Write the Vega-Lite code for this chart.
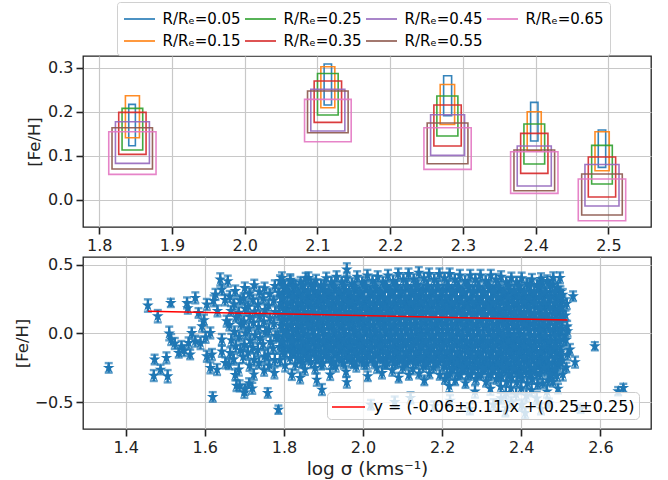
{
"$schema": "https://vega.github.io/schema/vega-lite/v6.json",
"background": "white",
"padding": {"left": 13, "top": 0, "right": 16, "bottom": 4},
"config": {
  "font": "DejaVu Sans",
  "view": {"stroke": "#222222", "strokeWidth": 1.3},
  "axis": {"grid": true, "gridColor": "#c8c8c8", "gridWidth": 1.2, "domain": false, "ticks": true, "tickColor": "#222222", "tickSize": 7, "tickWidth": 1.6, "labelFontSize": 16, "labelColor": "#222222", "labelPadding": 3, "titleFontSize": 16.5, "titleFontWeight": "normal", "titleColor": "#222222"},
  "concat": {"spacing": 2}
},
"datasets": {
"rects": [
{"r":"R/Rₑ=0.05","x1":1.8406,"x2":1.8497,"y1":0.1227,"y2":0.2166},
{"r":"R/Rₑ=0.15","x1":1.8360,"x2":1.8553,"y1":0.1409,"y2":0.2364},
{"r":"R/Rₑ=0.25","x1":1.8314,"x2":1.8598,"y1":0.1130,"y2":0.2075},
{"r":"R/Rₑ=0.35","x1":1.8268,"x2":1.8644,"y1":0.1030,"y2":0.1984},
{"r":"R/Rₑ=0.45","x1":1.8223,"x2":1.8690,"y1":0.0825,"y2":0.1773},
{"r":"R/Rₑ=0.55","x1":1.8176,"x2":1.8732,"y1":0.0698,"y2":0.1636},
{"r":"R/Rₑ=0.65","x1":1.8131,"x2":1.8781,"y1":0.0575,"y2":0.1545},
{"r":"R/Rₑ=0.05","x1":2.1092,"x2":2.1194,"y1":0.2152,"y2":0.3084},
{"r":"R/Rₑ=0.15","x1":2.1047,"x2":2.1239,"y1":0.2091,"y2":0.3023},
{"r":"R/Rₑ=0.25","x1":2.1001,"x2":2.1285,"y1":0.1925,"y2":0.2870},
{"r":"R/Rₑ=0.35","x1":2.0955,"x2":2.1332,"y1":0.1757,"y2":0.2698},
{"r":"R/Rₑ=0.45","x1":2.0909,"x2":2.1377,"y1":0.1561,"y2":0.2507},
{"r":"R/Rₑ=0.55","x1":2.0864,"x2":2.1422,"y1":0.1523,"y2":0.2470},
{"r":"R/Rₑ=0.65","x1":2.0823,"x2":2.1464,"y1":0.1318,"y2":0.2280},
{"r":"R/Rₑ=0.05","x1":2.2735,"x2":2.2845,"y1":0.1909,"y2":0.2818},
{"r":"R/Rₑ=0.15","x1":2.2688,"x2":2.2886,"y1":0.1711,"y2":0.2620},
{"r":"R/Rₑ=0.25","x1":2.2642,"x2":2.2931,"y1":0.1448,"y2":0.2357},
{"r":"R/Rₑ=0.35","x1":2.2601,"x2":2.2977,"y1":0.1220,"y2":0.2152},
{"r":"R/Rₑ=0.45","x1":2.2556,"x2":2.3023,"y1":0.1007,"y2":0.1932},
{"r":"R/Rₑ=0.55","x1":2.2509,"x2":2.3069,"y1":0.0818,"y2":0.1743},
{"r":"R/Rₑ=0.65","x1":2.2464,"x2":2.3114,"y1":0.0689,"y2":0.1636},
{"r":"R/Rₑ=0.05","x1":2.3931,"x2":2.4032,"y1":0.1334,"y2":0.2211},
{"r":"R/Rₑ=0.15","x1":2.3884,"x2":2.4077,"y1":0.1114,"y2":0.2000},
{"r":"R/Rₑ=0.25","x1":2.3839,"x2":2.4124,"y1":0.0811,"y2":0.1720},
{"r":"R/Rₑ=0.35","x1":2.3794,"x2":2.4169,"y1":0.0598,"y2":0.1507},
{"r":"R/Rₑ=0.45","x1":2.3747,"x2":2.4215,"y1":0.0311,"y2":0.1220},
{"r":"R/Rₑ=0.55","x1":2.3702,"x2":2.4261,"y1":0.0205,"y2":0.1130},
{"r":"R/Rₑ=0.65","x1":2.3656,"x2":2.4307,"y1":0.0143,"y2":0.1091},
{"r":"R/Rₑ=0.05","x1":2.4861,"x2":2.4963,"y1":0.0734,"y2":0.1584},
{"r":"R/Rₑ=0.15","x1":2.4816,"x2":2.5012,"y1":0.0659,"y2":0.1545},
{"r":"R/Rₑ=0.25","x1":2.4770,"x2":2.5054,"y1":0.0357,"y2":0.1234},
{"r":"R/Rₑ=0.35","x1":2.4724,"x2":2.5100,"y1":0.0061,"y2":0.0970},
{"r":"R/Rₑ=0.45","x1":2.4678,"x2":2.5146,"y1":-0.0143,"y2":0.0802},
{"r":"R/Rₑ=0.55","x1":2.4633,"x2":2.5191,"y1":-0.0348,"y2":0.0584},
{"r":"R/Rₑ=0.65","x1":2.4586,"x2":2.5238,"y1":-0.0477,"y2":0.0470}
],
"fit": [
{"x":1.456,"y":0.163,"lab":"y = (-0.06±0.11)x +(0.25±0.25)"},
{"x":2.517,"y":0.099,"lab":"y = (-0.06±0.11)x +(0.25±0.25)"}
],
"pts": [
{"x":1.357,"y":-0.251,"e":0.035},{"x":1.456,"y":0.204,"e":0.045},{"x":1.481,"y":0.126,"e":0.045},{"x":1.514,"y":0.223,"e":0.03},{"x":1.51,"y":0.0,"e":0.05},{"x":1.515,"y":-0.044,"e":0.04},{"x":1.524,"y":-0.073,"e":0.04},{"x":1.534,"y":-0.141,"e":0.035},{"x":1.473,"y":-0.19,"e":0.035},{"x":1.471,"y":-0.307,"e":0.04},{"x":1.488,"y":-0.263,"e":0.035},{"x":1.503,"y":-0.178,"e":0.04},{"x":1.506,"y":-0.312,"e":0.045},{"x":1.555,"y":0.223,"e":0.04},{"x":1.557,"y":0.185,"e":0.04},{"x":1.576,"y":0.26,"e":0.04},{"x":1.584,"y":0.15,"e":0.035},{"x":1.605,"y":0.212,"e":0.04},{"x":1.567,"y":0.004,"e":0.04},{"x":1.559,"y":-0.069,"e":0.04},{"x":1.563,"y":-0.153,"e":0.035},{"x":1.576,"y":-0.056,"e":0.04},{"x":1.593,"y":0.053,"e":0.04},{"x":1.589,"y":-0.069,"e":0.045},{"x":1.605,"y":-0.166,"e":0.04},{"x":1.614,"y":-0.251,"e":0.04},{"x":1.631,"y":-0.263,"e":0.04},{"x":1.62,"y":-0.463,"e":0.035},{"x":1.639,"y":0.394,"e":0.045},{"x":1.658,"y":0.382,"e":0.04},{"x":1.627,"y":0.285,"e":0.04},{"x":1.643,"y":0.321,"e":0.04},{"x":1.614,"y":0.004,"e":0.04},{"x":1.618,"y":-0.153,"e":0.04},{"x":1.643,"y":-0.044,"e":0.04},{"x":1.652,"y":-0.215,"e":0.04},{"x":1.643,"y":-0.13,"e":0.04},{"x":1.548,"y":-0.125,"e":0.04},{"x":1.541,"y":-0.095,"e":0.04},{"x":1.598,"y":0.098,"e":0.04},{"x":1.622,"y":0.238,"e":0.04},{"x":1.651,"y":0.245,"e":0.04},{"x":1.602,"y":-0.028,"e":0.04},{"x":1.632,"y":0.165,"e":0.04},{"x":1.655,"y":0.09,"e":0.04},
{"x":1.786,"y":-0.556,"e":0.03},{"x":1.759,"y":-0.434,"e":0.035},{"x":1.896,"y":-0.409,"e":0.04},{"x":1.883,"y":-0.336,"e":0.045},{"x":1.841,"y":-0.324,"e":0.04},{"x":1.82,"y":-0.299,"e":0.04},{"x":1.917,"y":-0.299,"e":0.04},{"x":1.959,"y":-0.355,"e":0.04},{"x":1.795,"y":0.406,"e":0.04},{"x":1.816,"y":0.382,"e":0.04},{"x":1.862,"y":0.406,"e":0.04},{"x":1.959,"y":0.467,"e":0.045},{"x":2.531,"y":0.272,"e":0.035},{"x":2.498,"y":0.406,"e":0.04},{"x":2.481,"y":0.406,"e":0.04},{"x":2.45,"y":0.399,"e":0.04},{"x":2.586,"y":-0.093,"e":0.03},{"x":2.658,"y":-0.397,"e":0.03},{"x":2.645,"y":-0.421,"e":0.03},{"x":2.536,"y":-0.209,"e":0.04},{"x":2.523,"y":-0.117,"e":0.04},{"x":2.517,"y":0.017,"e":0.04},{"x":2.504,"y":0.236,"e":0.04},{"x":1.7,"y":-0.43,"e":0.04},{"x":1.72,"y":-0.4,"e":0.04},{"x":1.68,"y":-0.38,"e":0.04},
{"x":2.02,"y":-0.52,"e":0.035},{"x":2.08,"y":-0.5,"e":0.04},{"x":2.18,"y":-0.53,"e":0.035},{"x":2.27,"y":-0.55,"e":0.04},{"x":2.33,"y":-0.52,"e":0.04},{"x":2.36,"y":-0.57,"e":0.035},{"x":2.41,"y":-0.58,"e":0.04},{"x":2.45,"y":-0.55,"e":0.04},{"x":2.47,"y":-0.51,"e":0.035},{"x":2.55,"y":-0.55,"e":0.03},{"x":2.12,"y":-0.47,"e":0.04},{"x":2.22,"y":-0.49,"e":0.04},
{"x":1.663,"y":0.27,"e":0.04},{"x":1.666,"y":0.165,"e":0.035},{"x":1.662,"y":0.062,"e":0.04},{"x":1.667,"y":-0.048,"e":0.045},{"x":1.664,"y":-0.142,"e":0.04},{"x":1.661,"y":-0.225,"e":0.035},
{"x":1.677,"y":0.31,"e":0.04},{"x":1.674,"y":0.214,"e":0.04},{"x":1.679,"y":0.118,"e":0.035},{"x":1.675,"y":0.012,"e":0.04},{"x":1.678,"y":-0.093,"e":0.045},{"x":1.673,"y":-0.188,"e":0.04},{"x":1.677,"y":-0.302,"e":0.04},
{"x":1.689,"y":0.243,"e":0.035},{"x":1.686,"y":0.152,"e":0.04},{"x":1.691,"y":0.068,"e":0.04},{"x":1.687,"y":-0.023,"e":0.035},{"x":1.69,"y":-0.121,"e":0.04},{"x":1.686,"y":-0.262,"e":0.045},{"x":1.688,"y":-0.382,"e":0.04},
{"x":1.701,"y":0.332,"e":0.04},{"x":1.698,"y":0.258,"e":0.035},{"x":1.702,"y":0.181,"e":0.04},{"x":1.699,"y":0.088,"e":0.04},{"x":1.703,"y":0.003,"e":0.035},{"x":1.7,"y":-0.082,"e":0.04},{"x":1.697,"y":-0.171,"e":0.045},{"x":1.702,"y":-0.408,"e":0.04},
{"x":1.713,"y":0.292,"e":0.04},{"x":1.71,"y":0.198,"e":0.04},{"x":1.714,"y":0.121,"e":0.035},{"x":1.711,"y":0.037,"e":0.04},{"x":1.715,"y":-0.052,"e":0.04},{"x":1.709,"y":-0.138,"e":0.045},{"x":1.713,"y":-0.232,"e":0.04},{"x":1.712,"y":-0.362,"e":0.035},
{"x":1.725,"y":0.352,"e":0.04},{"x":1.722,"y":0.248,"e":0.035},{"x":1.726,"y":0.162,"e":0.04},{"x":1.723,"y":0.078,"e":0.04},{"x":1.727,"y":-0.012,"e":0.035},{"x":1.721,"y":-0.103,"e":0.04},{"x":1.725,"y":-0.191,"e":0.045},{"x":1.724,"y":-0.298,"e":0.04},
{"x":1.738,"y":0.302,"e":0.04},{"x":1.735,"y":0.212,"e":0.04},{"x":1.739,"y":0.128,"e":0.035},{"x":1.736,"y":0.048,"e":0.04},{"x":1.74,"y":-0.032,"e":0.04},{"x":1.734,"y":-0.118,"e":0.045},{"x":1.737,"y":-0.213,"e":0.04},
{"x":1.751,"y":0.331,"e":0.04},{"x":1.748,"y":0.258,"e":0.035},{"x":1.752,"y":0.172,"e":0.04},{"x":1.749,"y":0.088,"e":0.04},{"x":1.753,"y":0.012,"e":0.035},{"x":1.747,"y":-0.078,"e":0.04},{"x":1.751,"y":-0.168,"e":0.045},{"x":1.75,"y":-0.268,"e":0.04},
{"x":1.764,"y":0.288,"e":0.04},{"x":1.761,"y":0.203,"e":0.04},{"x":1.765,"y":0.112,"e":0.035},{"x":1.762,"y":0.028,"e":0.04},{"x":1.766,"y":-0.061,"e":0.04},{"x":1.76,"y":-0.152,"e":0.045},{"x":1.763,"y":-0.232,"e":0.04},
{"x":1.777,"y":0.348,"e":0.04},{"x":1.774,"y":0.241,"e":0.035},{"x":1.778,"y":0.158,"e":0.04},{"x":1.775,"y":0.072,"e":0.04},{"x":1.779,"y":-0.018,"e":0.035},{"x":1.773,"y":-0.108,"e":0.04},{"x":1.777,"y":-0.192,"e":0.045},{"x":1.776,"y":-0.288,"e":0.04},
{"x":1.79,"y":0.384,"e":0.04},{"x":1.787,"y":0.297,"e":0.035},{"x":1.791,"y":0.222,"e":0.04},{"x":1.788,"y":0.143,"e":0.045},{"x":1.792,"y":0.058,"e":0.04},{"x":1.786,"y":-0.023,"e":0.035},{"x":1.789,"y":-0.097,"e":0.04},{"x":1.79,"y":-0.193,"e":0.045},
{"x":1.803,"y":0.344,"e":0.04},{"x":1.8,"y":0.262,"e":0.035},{"x":1.804,"y":0.178,"e":0.04},{"x":1.801,"y":0.103,"e":0.045},{"x":1.805,"y":0.018,"e":0.04},{"x":1.799,"y":-0.062,"e":0.035},{"x":1.802,"y":-0.138,"e":0.04},{"x":1.803,"y":-0.232,"e":0.045},
{"x":1.816,"y":0.392,"e":0.04},{"x":1.813,"y":0.298,"e":0.035},{"x":1.817,"y":0.224,"e":0.04},{"x":1.814,"y":0.138,"e":0.045},{"x":1.818,"y":0.062,"e":0.04},{"x":1.812,"y":-0.018,"e":0.035},{"x":1.815,"y":-0.103,"e":0.04},{"x":1.816,"y":-0.178,"e":0.045},
{"x":1.829,"y":0.352,"e":0.04},{"x":1.826,"y":0.268,"e":0.035},{"x":1.83,"y":0.192,"e":0.04},{"x":1.827,"y":0.108,"e":0.045},{"x":1.831,"y":0.033,"e":0.04},{"x":1.825,"y":-0.052,"e":0.035},{"x":1.828,"y":-0.128,"e":0.04},{"x":1.829,"y":-0.223,"e":0.045},
{"x":1.842,"y":0.372,"e":0.04},{"x":1.839,"y":0.288,"e":0.035},{"x":1.843,"y":0.212,"e":0.04},{"x":1.84,"y":0.128,"e":0.045},{"x":1.844,"y":0.052,"e":0.04},{"x":1.838,"y":-0.028,"e":0.035},{"x":1.841,"y":-0.112,"e":0.04},{"x":1.842,"y":-0.198,"e":0.045},
{"x":1.855,"y":0.402,"e":0.04},{"x":1.852,"y":0.318,"e":0.035},{"x":1.856,"y":0.242,"e":0.04},{"x":1.853,"y":0.158,"e":0.045},{"x":1.857,"y":0.082,"e":0.04},{"x":1.851,"y":0.002,"e":0.035},{"x":1.854,"y":-0.082,"e":0.04},{"x":1.855,"y":-0.158,"e":0.045},{"x":1.853,"y":-0.262,"e":0.04},
{"x":1.868,"y":0.362,"e":0.04},{"x":1.865,"y":0.278,"e":0.035},{"x":1.869,"y":0.202,"e":0.04},{"x":1.866,"y":0.118,"e":0.045},{"x":1.87,"y":0.042,"e":0.04},{"x":1.864,"y":-0.038,"e":0.035},{"x":1.867,"y":-0.122,"e":0.04},{"x":1.868,"y":-0.208,"e":0.045},
{"x":1.881,"y":0.388,"e":0.04},{"x":1.878,"y":0.312,"e":0.035},{"x":1.882,"y":0.228,"e":0.04},{"x":1.879,"y":0.152,"e":0.045},{"x":1.883,"y":0.068,"e":0.04},{"x":1.877,"y":-0.012,"e":0.035},{"x":1.88,"y":-0.088,"e":0.04},{"x":1.881,"y":-0.172,"e":0.045},{"x":1.879,"y":-0.252,"e":0.04},
{"x":1.894,"y":0.352,"e":0.04},{"x":1.891,"y":0.268,"e":0.035},{"x":1.895,"y":0.192,"e":0.04},{"x":1.892,"y":0.108,"e":0.045},{"x":1.896,"y":0.032,"e":0.04},{"x":1.89,"y":-0.048,"e":0.035},{"x":1.893,"y":-0.132,"e":0.04},{"x":1.894,"y":-0.218,"e":0.045},
{"x":1.907,"y":0.404,"e":0.04},{"x":1.904,"y":0.318,"e":0.035},{"x":1.908,"y":0.242,"e":0.04},{"x":1.905,"y":0.158,"e":0.045},{"x":1.909,"y":0.082,"e":0.04},{"x":1.903,"y":-0.003,"e":0.035},{"x":1.906,"y":-0.077,"e":0.04},{"x":1.907,"y":-0.163,"e":0.045},
{"x":1.92,"y":0.374,"e":0.04},{"x":1.917,"y":0.288,"e":0.035},{"x":1.921,"y":0.212,"e":0.04},{"x":1.918,"y":0.128,"e":0.045},{"x":1.922,"y":0.052,"e":0.04},{"x":1.916,"y":-0.033,"e":0.035},{"x":1.919,"y":-0.107,"e":0.04},{"x":1.92,"y":-0.213,"e":0.045},
{"x":1.933,"y":0.414,"e":0.04},{"x":1.93,"y":0.328,"e":0.035},{"x":1.934,"y":0.252,"e":0.04},{"x":1.931,"y":0.168,"e":0.045},{"x":1.935,"y":0.092,"e":0.04},{"x":1.929,"y":0.007,"e":0.035},{"x":1.932,"y":-0.067,"e":0.04},{"x":1.933,"y":-0.153,"e":0.045},{"x":1.931,"y":-0.238,"e":0.04},
{"x":1.946,"y":0.374,"e":0.04},{"x":1.943,"y":0.288,"e":0.035},{"x":1.947,"y":0.212,"e":0.04},{"x":1.944,"y":0.128,"e":0.045},{"x":1.948,"y":0.052,"e":0.04},{"x":1.942,"y":-0.033,"e":0.035},{"x":1.945,"y":-0.107,"e":0.04},{"x":1.946,"y":-0.193,"e":0.045},
{"x":1.959,"y":0.404,"e":0.04},{"x":1.956,"y":0.318,"e":0.035},{"x":1.96,"y":0.242,"e":0.04},{"x":1.957,"y":0.158,"e":0.045},{"x":1.961,"y":0.082,"e":0.04},{"x":1.955,"y":-0.003,"e":0.035},{"x":1.958,"y":-0.077,"e":0.04},{"x":1.959,"y":-0.173,"e":0.045},{"x":1.957,"y":-0.278,"e":0.04},
{"x":1.972,"y":0.364,"e":0.04},{"x":1.969,"y":0.278,"e":0.035},{"x":1.973,"y":0.202,"e":0.04},{"x":1.97,"y":0.118,"e":0.045},{"x":1.974,"y":0.042,"e":0.04},{"x":1.968,"y":-0.043,"e":0.035},{"x":1.971,"y":-0.117,"e":0.04},{"x":1.972,"y":-0.203,"e":0.045},
{"x":1.985,"y":0.414,"e":0.04},{"x":1.982,"y":0.328,"e":0.035},{"x":1.986,"y":0.252,"e":0.04},{"x":1.983,"y":0.168,"e":0.045},{"x":1.987,"y":0.092,"e":0.04},{"x":1.981,"y":0.007,"e":0.035},{"x":1.984,"y":-0.067,"e":0.04},{"x":1.985,"y":-0.153,"e":0.045},{"x":1.983,"y":-0.238,"e":0.04},
{"x":1.998,"y":0.374,"e":0.04},{"x":1.995,"y":0.288,"e":0.035},{"x":1.999,"y":0.212,"e":0.04},{"x":1.996,"y":0.128,"e":0.045},{"x":2.0,"y":0.052,"e":0.04},{"x":1.994,"y":-0.033,"e":0.035},{"x":1.997,"y":-0.107,"e":0.04},{"x":1.998,"y":-0.193,"e":0.045},
{"x":2.011,"y":0.424,"e":0.04},{"x":2.008,"y":0.338,"e":0.035},{"x":2.012,"y":0.262,"e":0.04},{"x":2.009,"y":0.178,"e":0.045},{"x":2.013,"y":0.102,"e":0.04},{"x":2.007,"y":0.017,"e":0.035},{"x":2.01,"y":-0.057,"e":0.04},{"x":2.011,"y":-0.143,"e":0.045},{"x":2.009,"y":-0.218,"e":0.04},{"x":2.012,"y":-0.312,"e":0.035},
{"x":2.024,"y":0.384,"e":0.04},{"x":2.021,"y":0.298,"e":0.035},{"x":2.025,"y":0.222,"e":0.04},{"x":2.022,"y":0.138,"e":0.045},{"x":2.026,"y":0.062,"e":0.04},{"x":2.02,"y":-0.023,"e":0.035},{"x":2.023,"y":-0.097,"e":0.04},{"x":2.024,"y":-0.183,"e":0.045},
{"x":2.037,"y":0.414,"e":0.04},{"x":2.034,"y":0.328,"e":0.035},{"x":2.038,"y":0.252,"e":0.04},{"x":2.035,"y":0.168,"e":0.045},{"x":2.039,"y":0.092,"e":0.04},{"x":2.033,"y":0.007,"e":0.035},{"x":2.036,"y":-0.067,"e":0.04},{"x":2.037,"y":-0.153,"e":0.045},{"x":2.035,"y":-0.248,"e":0.04},
{"x":2.05,"y":0.374,"e":0.04},{"x":2.047,"y":0.288,"e":0.035},{"x":2.051,"y":0.212,"e":0.04},{"x":2.048,"y":0.128,"e":0.045},{"x":2.052,"y":0.052,"e":0.04},{"x":2.046,"y":-0.033,"e":0.035},{"x":2.049,"y":-0.107,"e":0.04},{"x":2.05,"y":-0.193,"e":0.045},{"x":2.048,"y":-0.288,"e":0.04},
{"x":2.063,"y":0.424,"e":0.04},{"x":2.06,"y":0.338,"e":0.035},{"x":2.064,"y":0.262,"e":0.04},{"x":2.061,"y":0.178,"e":0.045},{"x":2.065,"y":0.102,"e":0.04},{"x":2.059,"y":0.017,"e":0.035},{"x":2.062,"y":-0.057,"e":0.04},{"x":2.063,"y":-0.143,"e":0.045},{"x":2.061,"y":-0.218,"e":0.04},
{"x":2.076,"y":0.384,"e":0.04},{"x":2.073,"y":0.298,"e":0.035},{"x":2.077,"y":0.222,"e":0.04},{"x":2.074,"y":0.138,"e":0.045},{"x":2.078,"y":0.062,"e":0.04},{"x":2.072,"y":-0.023,"e":0.035},{"x":2.075,"y":-0.097,"e":0.04},{"x":2.076,"y":-0.183,"e":0.045},{"x":2.074,"y":-0.268,"e":0.04},
{"x":2.089,"y":0.434,"e":0.04},{"x":2.086,"y":0.348,"e":0.035},{"x":2.09,"y":0.272,"e":0.04},{"x":2.087,"y":0.188,"e":0.045},{"x":2.091,"y":0.112,"e":0.04},{"x":2.085,"y":0.027,"e":0.035},{"x":2.088,"y":-0.047,"e":0.04},{"x":2.089,"y":-0.133,"e":0.045},{"x":2.087,"y":-0.208,"e":0.04},{"x":2.09,"y":-0.322,"e":0.035},
{"x":2.102,"y":0.394,"e":0.04},{"x":2.099,"y":0.308,"e":0.035},{"x":2.103,"y":0.232,"e":0.04},{"x":2.1,"y":0.148,"e":0.045},{"x":2.104,"y":0.072,"e":0.04},{"x":2.098,"y":-0.013,"e":0.035},{"x":2.101,"y":-0.087,"e":0.04},{"x":2.102,"y":-0.173,"e":0.045},{"x":2.1,"y":-0.248,"e":0.04},
{"x":2.115,"y":0.434,"e":0.04},{"x":2.112,"y":0.348,"e":0.035},{"x":2.116,"y":0.272,"e":0.04},{"x":2.113,"y":0.188,"e":0.045},{"x":2.117,"y":0.112,"e":0.04},{"x":2.111,"y":0.027,"e":0.035},{"x":2.114,"y":-0.047,"e":0.04},{"x":2.115,"y":-0.133,"e":0.045},{"x":2.113,"y":-0.208,"e":0.04},{"x":2.116,"y":-0.302,"e":0.035},
{"x":2.128,"y":0.394,"e":0.04},{"x":2.125,"y":0.308,"e":0.035},{"x":2.129,"y":0.232,"e":0.04},{"x":2.126,"y":0.148,"e":0.045},{"x":2.13,"y":0.072,"e":0.04},{"x":2.124,"y":-0.013,"e":0.035},{"x":2.127,"y":-0.087,"e":0.04},{"x":2.128,"y":-0.173,"e":0.045},{"x":2.126,"y":-0.258,"e":0.04},
{"x":2.141,"y":0.444,"e":0.04},{"x":2.138,"y":0.358,"e":0.035},{"x":2.142,"y":0.282,"e":0.04},{"x":2.139,"y":0.198,"e":0.045},{"x":2.143,"y":0.122,"e":0.04},{"x":2.137,"y":0.037,"e":0.035},{"x":2.14,"y":-0.037,"e":0.04},{"x":2.141,"y":-0.123,"e":0.045},{"x":2.139,"y":-0.198,"e":0.04},{"x":2.142,"y":-0.292,"e":0.035},
{"x":2.154,"y":0.404,"e":0.04},{"x":2.151,"y":0.318,"e":0.035},{"x":2.155,"y":0.242,"e":0.04},{"x":2.152,"y":0.158,"e":0.045},{"x":2.156,"y":0.082,"e":0.04},{"x":2.15,"y":-0.003,"e":0.035},{"x":2.153,"y":-0.077,"e":0.04},{"x":2.154,"y":-0.163,"e":0.045},{"x":2.152,"y":-0.238,"e":0.04},{"x":2.155,"y":-0.342,"e":0.035},
{"x":2.167,"y":0.434,"e":0.04},{"x":2.164,"y":0.348,"e":0.035},{"x":2.168,"y":0.272,"e":0.04},{"x":2.165,"y":0.188,"e":0.045},{"x":2.169,"y":0.112,"e":0.04},{"x":2.163,"y":0.027,"e":0.035},{"x":2.166,"y":-0.047,"e":0.04},{"x":2.167,"y":-0.133,"e":0.045},{"x":2.165,"y":-0.208,"e":0.04},{"x":2.168,"y":-0.292,"e":0.035},
{"x":2.18,"y":0.394,"e":0.04},{"x":2.177,"y":0.308,"e":0.035},{"x":2.181,"y":0.232,"e":0.04},{"x":2.178,"y":0.148,"e":0.045},{"x":2.182,"y":0.072,"e":0.04},{"x":2.176,"y":-0.013,"e":0.035},{"x":2.179,"y":-0.087,"e":0.04},{"x":2.18,"y":-0.173,"e":0.045},{"x":2.178,"y":-0.248,"e":0.04},
{"x":2.193,"y":0.434,"e":0.04},{"x":2.19,"y":0.348,"e":0.035},{"x":2.194,"y":0.272,"e":0.04},{"x":2.191,"y":0.188,"e":0.045},{"x":2.195,"y":0.112,"e":0.04},{"x":2.189,"y":0.027,"e":0.035},{"x":2.192,"y":-0.047,"e":0.04},{"x":2.193,"y":-0.133,"e":0.045},{"x":2.191,"y":-0.208,"e":0.04},{"x":2.194,"y":-0.302,"e":0.035},
{"x":2.206,"y":0.404,"e":0.04},{"x":2.203,"y":0.318,"e":0.035},{"x":2.207,"y":0.242,"e":0.04},{"x":2.204,"y":0.158,"e":0.045},{"x":2.208,"y":0.082,"e":0.04},{"x":2.202,"y":-0.003,"e":0.035},{"x":2.205,"y":-0.077,"e":0.04},{"x":2.206,"y":-0.163,"e":0.045},{"x":2.204,"y":-0.238,"e":0.04},{"x":2.207,"y":-0.332,"e":0.035},
{"x":2.219,"y":0.434,"e":0.04},{"x":2.216,"y":0.348,"e":0.035},{"x":2.22,"y":0.272,"e":0.04},{"x":2.217,"y":0.188,"e":0.045},{"x":2.221,"y":0.112,"e":0.04},{"x":2.215,"y":0.027,"e":0.035},{"x":2.218,"y":-0.047,"e":0.04},{"x":2.219,"y":-0.133,"e":0.045},{"x":2.217,"y":-0.208,"e":0.04},{"x":2.22,"y":-0.292,"e":0.035},{"x":2.218,"y":-0.383,"e":0.045},
{"x":2.232,"y":0.394,"e":0.04},{"x":2.229,"y":0.308,"e":0.035},{"x":2.233,"y":0.232,"e":0.04},{"x":2.23,"y":0.148,"e":0.045},{"x":2.234,"y":0.072,"e":0.04},{"x":2.228,"y":-0.013,"e":0.035},{"x":2.231,"y":-0.087,"e":0.04},{"x":2.232,"y":-0.173,"e":0.045},{"x":2.23,"y":-0.248,"e":0.04},{"x":2.233,"y":-0.342,"e":0.035},
{"x":2.245,"y":0.424,"e":0.04},{"x":2.242,"y":0.338,"e":0.035},{"x":2.246,"y":0.262,"e":0.04},{"x":2.243,"y":0.178,"e":0.045},{"x":2.247,"y":0.102,"e":0.04},{"x":2.241,"y":0.017,"e":0.035},{"x":2.244,"y":-0.057,"e":0.04},{"x":2.245,"y":-0.143,"e":0.045},{"x":2.243,"y":-0.218,"e":0.04},{"x":2.246,"y":-0.302,"e":0.035},
{"x":2.258,"y":0.384,"e":0.04},{"x":2.255,"y":0.298,"e":0.035},{"x":2.259,"y":0.222,"e":0.04},{"x":2.256,"y":0.138,"e":0.045},{"x":2.26,"y":0.062,"e":0.04},{"x":2.254,"y":-0.023,"e":0.035},{"x":2.257,"y":-0.097,"e":0.04},{"x":2.258,"y":-0.183,"e":0.045},{"x":2.256,"y":-0.258,"e":0.04},{"x":2.259,"y":-0.362,"e":0.035},
{"x":2.271,"y":0.424,"e":0.04},{"x":2.268,"y":0.338,"e":0.035},{"x":2.272,"y":0.262,"e":0.04},{"x":2.269,"y":0.178,"e":0.045},{"x":2.273,"y":0.102,"e":0.04},{"x":2.267,"y":0.017,"e":0.035},{"x":2.27,"y":-0.057,"e":0.04},{"x":2.271,"y":-0.143,"e":0.045},{"x":2.269,"y":-0.218,"e":0.04},{"x":2.272,"y":-0.302,"e":0.035},
{"x":2.284,"y":0.394,"e":0.04},{"x":2.281,"y":0.308,"e":0.035},{"x":2.285,"y":0.232,"e":0.04},{"x":2.282,"y":0.148,"e":0.045},{"x":2.286,"y":0.072,"e":0.04},{"x":2.28,"y":-0.013,"e":0.035},{"x":2.283,"y":-0.087,"e":0.04},{"x":2.284,"y":-0.173,"e":0.045},{"x":2.282,"y":-0.248,"e":0.04},{"x":2.285,"y":-0.332,"e":0.035},{"x":2.283,"y":-0.423,"e":0.045},
{"x":2.297,"y":0.424,"e":0.04},{"x":2.294,"y":0.338,"e":0.035},{"x":2.298,"y":0.262,"e":0.04},{"x":2.295,"y":0.178,"e":0.045},{"x":2.299,"y":0.102,"e":0.04},{"x":2.293,"y":0.017,"e":0.035},{"x":2.296,"y":-0.057,"e":0.04},{"x":2.297,"y":-0.143,"e":0.045},{"x":2.295,"y":-0.218,"e":0.04},{"x":2.298,"y":-0.302,"e":0.035},
{"x":2.31,"y":0.384,"e":0.04},{"x":2.307,"y":0.298,"e":0.035},{"x":2.311,"y":0.222,"e":0.04},{"x":2.308,"y":0.138,"e":0.045},{"x":2.312,"y":0.062,"e":0.04},{"x":2.306,"y":-0.023,"e":0.035},{"x":2.309,"y":-0.097,"e":0.04},{"x":2.31,"y":-0.183,"e":0.045},{"x":2.308,"y":-0.258,"e":0.04},{"x":2.311,"y":-0.352,"e":0.035},
{"x":2.323,"y":0.424,"e":0.04},{"x":2.32,"y":0.338,"e":0.035},{"x":2.324,"y":0.262,"e":0.04},{"x":2.321,"y":0.178,"e":0.045},{"x":2.325,"y":0.102,"e":0.04},{"x":2.319,"y":0.017,"e":0.035},{"x":2.322,"y":-0.057,"e":0.04},{"x":2.323,"y":-0.143,"e":0.045},{"x":2.321,"y":-0.218,"e":0.04},{"x":2.324,"y":-0.302,"e":0.035},{"x":2.322,"y":-0.403,"e":0.045},
{"x":2.336,"y":0.394,"e":0.04},{"x":2.333,"y":0.308,"e":0.035},{"x":2.337,"y":0.232,"e":0.04},{"x":2.334,"y":0.148,"e":0.045},{"x":2.338,"y":0.072,"e":0.04},{"x":2.332,"y":-0.013,"e":0.035},{"x":2.335,"y":-0.087,"e":0.04},{"x":2.336,"y":-0.173,"e":0.045},{"x":2.334,"y":-0.248,"e":0.04},{"x":2.337,"y":-0.332,"e":0.035},
{"x":2.349,"y":0.414,"e":0.04},{"x":2.346,"y":0.328,"e":0.035},{"x":2.35,"y":0.252,"e":0.04},{"x":2.347,"y":0.168,"e":0.045},{"x":2.351,"y":0.092,"e":0.04},{"x":2.345,"y":0.007,"e":0.035},{"x":2.348,"y":-0.067,"e":0.04},{"x":2.349,"y":-0.153,"e":0.045},{"x":2.347,"y":-0.228,"e":0.04},{"x":2.35,"y":-0.312,"e":0.035},{"x":2.348,"y":-0.388,"e":0.045},{"x":2.349,"y":-0.472,"e":0.04},
{"x":2.362,"y":0.374,"e":0.04},{"x":2.359,"y":0.288,"e":0.035},{"x":2.363,"y":0.212,"e":0.04},{"x":2.36,"y":0.128,"e":0.045},{"x":2.364,"y":0.052,"e":0.04},{"x":2.358,"y":-0.033,"e":0.035},{"x":2.361,"y":-0.107,"e":0.04},{"x":2.362,"y":-0.193,"e":0.045},{"x":2.36,"y":-0.268,"e":0.04},{"x":2.363,"y":-0.352,"e":0.035},{"x":2.361,"y":-0.433,"e":0.045},
{"x":2.375,"y":0.404,"e":0.04},{"x":2.372,"y":0.318,"e":0.035},{"x":2.376,"y":0.242,"e":0.04},{"x":2.373,"y":0.158,"e":0.045},{"x":2.377,"y":0.082,"e":0.04},{"x":2.371,"y":-0.003,"e":0.035},{"x":2.374,"y":-0.077,"e":0.04},{"x":2.375,"y":-0.163,"e":0.045},{"x":2.373,"y":-0.238,"e":0.04},{"x":2.376,"y":-0.322,"e":0.035},{"x":2.374,"y":-0.398,"e":0.045},{"x":2.375,"y":-0.502,"e":0.04},
{"x":2.388,"y":0.374,"e":0.04},{"x":2.385,"y":0.288,"e":0.035},{"x":2.389,"y":0.212,"e":0.04},{"x":2.386,"y":0.128,"e":0.045},{"x":2.39,"y":0.052,"e":0.04},{"x":2.384,"y":-0.033,"e":0.035},{"x":2.387,"y":-0.107,"e":0.04},{"x":2.388,"y":-0.193,"e":0.045},{"x":2.386,"y":-0.268,"e":0.04},{"x":2.389,"y":-0.352,"e":0.035},{"x":2.387,"y":-0.443,"e":0.045},
{"x":2.401,"y":0.404,"e":0.04},{"x":2.398,"y":0.318,"e":0.035},{"x":2.402,"y":0.242,"e":0.04},{"x":2.399,"y":0.158,"e":0.045},{"x":2.403,"y":0.082,"e":0.04},{"x":2.397,"y":-0.003,"e":0.035},{"x":2.4,"y":-0.077,"e":0.04},{"x":2.401,"y":-0.163,"e":0.045},{"x":2.399,"y":-0.238,"e":0.04},{"x":2.402,"y":-0.322,"e":0.035},{"x":2.4,"y":-0.398,"e":0.045},{"x":2.401,"y":-0.522,"e":0.04},
{"x":2.414,"y":0.364,"e":0.04},{"x":2.411,"y":0.278,"e":0.035},{"x":2.415,"y":0.202,"e":0.04},{"x":2.412,"y":0.118,"e":0.045},{"x":2.416,"y":0.042,"e":0.04},{"x":2.41,"y":-0.043,"e":0.035},{"x":2.413,"y":-0.117,"e":0.04},{"x":2.414,"y":-0.203,"e":0.045},{"x":2.412,"y":-0.278,"e":0.04},{"x":2.415,"y":-0.362,"e":0.035},{"x":2.413,"y":-0.453,"e":0.045},
{"x":2.427,"y":0.394,"e":0.04},{"x":2.424,"y":0.308,"e":0.035},{"x":2.428,"y":0.232,"e":0.04},{"x":2.425,"y":0.148,"e":0.045},{"x":2.429,"y":0.072,"e":0.04},{"x":2.423,"y":-0.013,"e":0.035},{"x":2.426,"y":-0.087,"e":0.04},{"x":2.427,"y":-0.173,"e":0.045},{"x":2.425,"y":-0.248,"e":0.04},{"x":2.428,"y":-0.332,"e":0.035},{"x":2.426,"y":-0.413,"e":0.045},
{"x":2.44,"y":0.354,"e":0.04},{"x":2.437,"y":0.268,"e":0.035},{"x":2.441,"y":0.192,"e":0.04},{"x":2.438,"y":0.108,"e":0.045},{"x":2.442,"y":0.032,"e":0.04},{"x":2.436,"y":-0.053,"e":0.035},{"x":2.439,"y":-0.127,"e":0.04},{"x":2.44,"y":-0.213,"e":0.045},{"x":2.438,"y":-0.288,"e":0.04},{"x":2.441,"y":-0.372,"e":0.035},{"x":2.439,"y":-0.473,"e":0.045},
{"x":2.453,"y":0.374,"e":0.04},{"x":2.45,"y":0.288,"e":0.035},{"x":2.454,"y":0.212,"e":0.04},{"x":2.451,"y":0.128,"e":0.045},{"x":2.455,"y":0.052,"e":0.04},{"x":2.449,"y":-0.033,"e":0.035},{"x":2.452,"y":-0.107,"e":0.04},{"x":2.453,"y":-0.193,"e":0.045},{"x":2.451,"y":-0.268,"e":0.04},{"x":2.454,"y":-0.362,"e":0.035},
{"x":2.466,"y":0.384,"e":0.04},{"x":2.463,"y":0.298,"e":0.035},{"x":2.467,"y":0.222,"e":0.04},{"x":2.464,"y":0.138,"e":0.045},{"x":2.468,"y":0.062,"e":0.04},{"x":2.462,"y":-0.023,"e":0.035},{"x":2.465,"y":-0.097,"e":0.04},{"x":2.466,"y":-0.183,"e":0.045},{"x":2.464,"y":-0.258,"e":0.04},{"x":2.467,"y":-0.342,"e":0.035},{"x":2.465,"y":-0.423,"e":0.045},
{"x":2.479,"y":0.354,"e":0.04},{"x":2.476,"y":0.268,"e":0.035},{"x":2.48,"y":0.192,"e":0.04},{"x":2.477,"y":0.108,"e":0.045},{"x":2.481,"y":0.032,"e":0.04},{"x":2.475,"y":-0.053,"e":0.035},{"x":2.478,"y":-0.127,"e":0.04},{"x":2.479,"y":-0.213,"e":0.045},{"x":2.477,"y":-0.288,"e":0.04},{"x":2.48,"y":-0.352,"e":0.035},
{"x":2.492,"y":0.334,"e":0.04},{"x":2.489,"y":0.248,"e":0.035},{"x":2.493,"y":0.172,"e":0.04},{"x":2.49,"y":0.088,"e":0.045},{"x":2.494,"y":0.012,"e":0.04},{"x":2.488,"y":-0.073,"e":0.035},{"x":2.491,"y":-0.147,"e":0.04},{"x":2.492,"y":-0.233,"e":0.045},{"x":2.49,"y":-0.308,"e":0.04},{"x":2.493,"y":-0.402,"e":0.035},
{"x":2.505,"y":0.284,"e":0.04},{"x":2.502,"y":0.198,"e":0.035},{"x":2.506,"y":0.122,"e":0.04},{"x":2.503,"y":0.038,"e":0.045},{"x":2.507,"y":-0.042,"e":0.04},{"x":2.501,"y":-0.123,"e":0.035},{"x":2.504,"y":-0.197,"e":0.04},{"x":2.505,"y":-0.298,"e":0.045},
{"x":2.515,"y":0.218,"e":0.04},{"x":2.512,"y":0.132,"e":0.035},{"x":2.516,"y":0.052,"e":0.04},{"x":2.513,"y":-0.047,"e":0.045},{"x":2.517,"y":-0.152,"e":0.04},{"x":2.514,"y":-0.248,"e":0.035},
{"x":1.797,"y":0.348,"e":0.04},{"x":1.795,"y":0.262,"e":0.04},{"x":1.797,"y":0.187,"e":0.04},{"x":1.795,"y":0.103,"e":0.04},{"x":1.797,"y":0.027,"e":0.04},{"x":1.795,"y":-0.057,"e":0.04},{"x":1.797,"y":-0.132,"e":0.04},
{"x":1.823,"y":0.343,"e":0.04},{"x":1.821,"y":0.267,"e":0.04},{"x":1.823,"y":0.183,"e":0.04},{"x":1.821,"y":0.107,"e":0.04},{"x":1.823,"y":0.022,"e":0.04},{"x":1.821,"y":-0.053,"e":0.04},{"x":1.823,"y":-0.137,"e":0.04},
{"x":1.849,"y":0.349,"e":0.04},{"x":1.847,"y":0.263,"e":0.04},{"x":1.849,"y":0.188,"e":0.04},{"x":1.847,"y":0.102,"e":0.04},{"x":1.849,"y":0.028,"e":0.04},{"x":1.847,"y":-0.058,"e":0.04},{"x":1.849,"y":-0.133,"e":0.04},{"x":1.847,"y":-0.212,"e":0.04},
{"x":1.875,"y":0.344,"e":0.04},{"x":1.873,"y":0.268,"e":0.04},{"x":1.875,"y":0.182,"e":0.04},{"x":1.873,"y":0.108,"e":0.04},{"x":1.875,"y":0.023,"e":0.04},{"x":1.873,"y":-0.052,"e":0.04},{"x":1.875,"y":-0.138,"e":0.04},
{"x":1.901,"y":0.347,"e":0.04},{"x":1.899,"y":0.264,"e":0.04},{"x":1.901,"y":0.186,"e":0.04},{"x":1.899,"y":0.104,"e":0.04},{"x":1.901,"y":0.026,"e":0.04},{"x":1.899,"y":-0.056,"e":0.04},{"x":1.901,"y":-0.134,"e":0.04},{"x":1.899,"y":-0.217,"e":0.04},
{"x":1.927,"y":0.345,"e":0.04},{"x":1.925,"y":0.266,"e":0.04},{"x":1.927,"y":0.184,"e":0.04},{"x":1.925,"y":0.106,"e":0.04},{"x":1.927,"y":0.024,"e":0.04},{"x":1.925,"y":-0.054,"e":0.04},{"x":1.927,"y":-0.136,"e":0.04},{"x":1.925,"y":-0.213,"e":0.04},
{"x":1.953,"y":0.348,"e":0.04},{"x":1.951,"y":0.262,"e":0.04},{"x":1.953,"y":0.187,"e":0.04},{"x":1.951,"y":0.103,"e":0.04},{"x":1.953,"y":0.027,"e":0.04},{"x":1.951,"y":-0.057,"e":0.04},{"x":1.953,"y":-0.132,"e":0.04},{"x":1.951,"y":-0.216,"e":0.04},
{"x":1.979,"y":0.343,"e":0.04},{"x":1.977,"y":0.267,"e":0.04},{"x":1.979,"y":0.183,"e":0.04},{"x":1.977,"y":0.107,"e":0.04},{"x":1.979,"y":0.022,"e":0.04},{"x":1.977,"y":-0.053,"e":0.04},{"x":1.979,"y":-0.137,"e":0.04},{"x":1.977,"y":-0.212,"e":0.04},
{"x":2.005,"y":0.349,"e":0.04},{"x":2.003,"y":0.263,"e":0.04},{"x":2.005,"y":0.188,"e":0.04},{"x":2.003,"y":0.102,"e":0.04},{"x":2.005,"y":0.028,"e":0.04},{"x":2.003,"y":-0.058,"e":0.04},{"x":2.005,"y":-0.133,"e":0.04},{"x":2.003,"y":-0.218,"e":0.04},
{"x":2.031,"y":0.344,"e":0.04},{"x":2.029,"y":0.268,"e":0.04},{"x":2.031,"y":0.182,"e":0.04},{"x":2.029,"y":0.108,"e":0.04},{"x":2.031,"y":0.023,"e":0.04},{"x":2.029,"y":-0.052,"e":0.04},{"x":2.031,"y":-0.138,"e":0.04},{"x":2.029,"y":-0.214,"e":0.04},
{"x":2.057,"y":0.347,"e":0.04},{"x":2.055,"y":0.264,"e":0.04},{"x":2.057,"y":0.186,"e":0.04},{"x":2.055,"y":0.104,"e":0.04},{"x":2.057,"y":0.026,"e":0.04},{"x":2.055,"y":-0.056,"e":0.04},{"x":2.057,"y":-0.134,"e":0.04},{"x":2.055,"y":-0.217,"e":0.04},
{"x":2.083,"y":0.345,"e":0.04},{"x":2.081,"y":0.266,"e":0.04},{"x":2.083,"y":0.184,"e":0.04},{"x":2.081,"y":0.106,"e":0.04},{"x":2.083,"y":0.024,"e":0.04},{"x":2.081,"y":-0.054,"e":0.04},{"x":2.083,"y":-0.136,"e":0.04},{"x":2.081,"y":-0.213,"e":0.04},
{"x":2.109,"y":0.348,"e":0.04},{"x":2.107,"y":0.262,"e":0.04},{"x":2.109,"y":0.187,"e":0.04},{"x":2.107,"y":0.103,"e":0.04},{"x":2.109,"y":0.027,"e":0.04},{"x":2.107,"y":-0.057,"e":0.04},{"x":2.109,"y":-0.132,"e":0.04},{"x":2.107,"y":-0.216,"e":0.04},
{"x":2.135,"y":0.343,"e":0.04},{"x":2.133,"y":0.267,"e":0.04},{"x":2.135,"y":0.183,"e":0.04},{"x":2.133,"y":0.107,"e":0.04},{"x":2.135,"y":0.022,"e":0.04},{"x":2.133,"y":-0.053,"e":0.04},{"x":2.135,"y":-0.137,"e":0.04},{"x":2.133,"y":-0.212,"e":0.04},
{"x":2.161,"y":0.349,"e":0.04},{"x":2.159,"y":0.263,"e":0.04},{"x":2.161,"y":0.188,"e":0.04},{"x":2.159,"y":0.102,"e":0.04},{"x":2.161,"y":0.028,"e":0.04},{"x":2.159,"y":-0.058,"e":0.04},{"x":2.161,"y":-0.133,"e":0.04},{"x":2.159,"y":-0.218,"e":0.04},
{"x":2.187,"y":0.344,"e":0.04},{"x":2.185,"y":0.268,"e":0.04},{"x":2.187,"y":0.182,"e":0.04},{"x":2.185,"y":0.108,"e":0.04},{"x":2.187,"y":0.023,"e":0.04},{"x":2.185,"y":-0.052,"e":0.04},{"x":2.187,"y":-0.138,"e":0.04},{"x":2.185,"y":-0.214,"e":0.04},
{"x":2.213,"y":0.347,"e":0.04},{"x":2.211,"y":0.264,"e":0.04},{"x":2.213,"y":0.186,"e":0.04},{"x":2.211,"y":0.104,"e":0.04},{"x":2.213,"y":0.026,"e":0.04},{"x":2.211,"y":-0.056,"e":0.04},{"x":2.213,"y":-0.134,"e":0.04},{"x":2.211,"y":-0.217,"e":0.04},{"x":2.213,"y":-0.296,"e":0.04},
{"x":2.239,"y":0.345,"e":0.04},{"x":2.237,"y":0.266,"e":0.04},{"x":2.239,"y":0.184,"e":0.04},{"x":2.237,"y":0.106,"e":0.04},{"x":2.239,"y":0.024,"e":0.04},{"x":2.237,"y":-0.054,"e":0.04},{"x":2.239,"y":-0.136,"e":0.04},{"x":2.237,"y":-0.213,"e":0.04},{"x":2.239,"y":-0.293,"e":0.04},
{"x":2.265,"y":0.348,"e":0.04},{"x":2.263,"y":0.262,"e":0.04},{"x":2.265,"y":0.187,"e":0.04},{"x":2.263,"y":0.103,"e":0.04},{"x":2.265,"y":0.027,"e":0.04},{"x":2.263,"y":-0.057,"e":0.04},{"x":2.265,"y":-0.132,"e":0.04},{"x":2.263,"y":-0.216,"e":0.04},{"x":2.265,"y":-0.297,"e":0.04},
{"x":2.291,"y":0.343,"e":0.04},{"x":2.289,"y":0.267,"e":0.04},{"x":2.291,"y":0.183,"e":0.04},{"x":2.289,"y":0.107,"e":0.04},{"x":2.291,"y":0.022,"e":0.04},{"x":2.289,"y":-0.053,"e":0.04},{"x":2.291,"y":-0.137,"e":0.04},{"x":2.289,"y":-0.212,"e":0.04},{"x":2.291,"y":-0.294,"e":0.04},
{"x":2.317,"y":0.349,"e":0.04},{"x":2.315,"y":0.263,"e":0.04},{"x":2.317,"y":0.188,"e":0.04},{"x":2.315,"y":0.102,"e":0.04},{"x":2.317,"y":0.028,"e":0.04},{"x":2.315,"y":-0.058,"e":0.04},{"x":2.317,"y":-0.133,"e":0.04},{"x":2.315,"y":-0.218,"e":0.04},{"x":2.317,"y":-0.298,"e":0.04},
{"x":2.343,"y":0.344,"e":0.04},{"x":2.341,"y":0.268,"e":0.04},{"x":2.343,"y":0.182,"e":0.04},{"x":2.341,"y":0.108,"e":0.04},{"x":2.343,"y":0.023,"e":0.04},{"x":2.341,"y":-0.052,"e":0.04},{"x":2.343,"y":-0.138,"e":0.04},{"x":2.341,"y":-0.214,"e":0.04},{"x":2.343,"y":-0.295,"e":0.04},
{"x":2.369,"y":0.347,"e":0.04},{"x":2.367,"y":0.264,"e":0.04},{"x":2.369,"y":0.186,"e":0.04},{"x":2.367,"y":0.104,"e":0.04},{"x":2.369,"y":0.026,"e":0.04},{"x":2.367,"y":-0.056,"e":0.04},{"x":2.369,"y":-0.134,"e":0.04},{"x":2.367,"y":-0.217,"e":0.04},{"x":2.369,"y":-0.296,"e":0.04},
{"x":2.395,"y":0.345,"e":0.04},{"x":2.393,"y":0.266,"e":0.04},{"x":2.395,"y":0.184,"e":0.04},{"x":2.393,"y":0.106,"e":0.04},{"x":2.395,"y":0.024,"e":0.04},{"x":2.393,"y":-0.054,"e":0.04},{"x":2.395,"y":-0.136,"e":0.04},{"x":2.393,"y":-0.213,"e":0.04},{"x":2.395,"y":-0.293,"e":0.04},
{"x":2.421,"y":0.348,"e":0.04},{"x":2.419,"y":0.262,"e":0.04},{"x":2.421,"y":0.187,"e":0.04},{"x":2.419,"y":0.103,"e":0.04},{"x":2.421,"y":0.027,"e":0.04},{"x":2.419,"y":-0.057,"e":0.04},{"x":2.421,"y":-0.132,"e":0.04},{"x":2.419,"y":-0.216,"e":0.04},{"x":2.421,"y":-0.297,"e":0.04},
{"x":2.447,"y":0.343,"e":0.04},{"x":2.445,"y":0.267,"e":0.04},{"x":2.447,"y":0.183,"e":0.04},{"x":2.445,"y":0.107,"e":0.04},{"x":2.447,"y":0.022,"e":0.04},{"x":2.445,"y":-0.053,"e":0.04},{"x":2.447,"y":-0.137,"e":0.04},{"x":2.445,"y":-0.212,"e":0.04},{"x":2.447,"y":-0.294,"e":0.04},
{"x":2.473,"y":0.349,"e":0.04},{"x":2.471,"y":0.263,"e":0.04},{"x":2.473,"y":0.188,"e":0.04},{"x":2.471,"y":0.102,"e":0.04},{"x":2.473,"y":0.028,"e":0.04},{"x":2.471,"y":-0.058,"e":0.04},{"x":2.473,"y":-0.133,"e":0.04},{"x":2.471,"y":-0.218,"e":0.04},{"x":2.473,"y":-0.298,"e":0.04},
{"x":2.499,"y":0.304,"e":0.04},{"x":2.497,"y":0.268,"e":0.04},{"x":2.499,"y":0.182,"e":0.04},{"x":2.497,"y":0.108,"e":0.04},{"x":2.499,"y":0.023,"e":0.04},{"x":2.497,"y":-0.052,"e":0.04},{"x":2.499,"y":-0.138,"e":0.04},{"x":2.497,"y":-0.214,"e":0.04},
{"x":1.809,"y":0.306,"e":0.04},{"x":1.809,"y":0.223,"e":0.04},{"x":1.809,"y":0.147,"e":0.04},{"x":1.809,"y":0.063,"e":0.04},{"x":1.809,"y":-0.013,"e":0.04},{"x":1.809,"y":-0.097,"e":0.04},
{"x":1.835,"y":0.302,"e":0.04},{"x":1.835,"y":0.227,"e":0.04},{"x":1.835,"y":0.143,"e":0.04},{"x":1.835,"y":0.067,"e":0.04},{"x":1.835,"y":-0.017,"e":0.04},{"x":1.835,"y":-0.093,"e":0.04},{"x":1.835,"y":-0.177,"e":0.04},
{"x":1.861,"y":0.306,"e":0.04},{"x":1.861,"y":0.223,"e":0.04},{"x":1.861,"y":0.147,"e":0.04},{"x":1.861,"y":0.063,"e":0.04},{"x":1.861,"y":-0.013,"e":0.04},{"x":1.861,"y":-0.097,"e":0.04},{"x":1.861,"y":-0.173,"e":0.04},
{"x":1.887,"y":0.302,"e":0.04},{"x":1.887,"y":0.227,"e":0.04},{"x":1.887,"y":0.143,"e":0.04},{"x":1.887,"y":0.067,"e":0.04},{"x":1.887,"y":-0.017,"e":0.04},{"x":1.887,"y":-0.093,"e":0.04},{"x":1.887,"y":-0.177,"e":0.04},
{"x":1.913,"y":0.306,"e":0.04},{"x":1.913,"y":0.223,"e":0.04},{"x":1.913,"y":0.147,"e":0.04},{"x":1.913,"y":0.063,"e":0.04},{"x":1.913,"y":-0.013,"e":0.04},{"x":1.913,"y":-0.097,"e":0.04},{"x":1.913,"y":-0.173,"e":0.04},
{"x":1.939,"y":0.302,"e":0.04},{"x":1.939,"y":0.227,"e":0.04},{"x":1.939,"y":0.143,"e":0.04},{"x":1.939,"y":0.067,"e":0.04},{"x":1.939,"y":-0.017,"e":0.04},{"x":1.939,"y":-0.093,"e":0.04},{"x":1.939,"y":-0.177,"e":0.04},
{"x":1.965,"y":0.306,"e":0.04},{"x":1.965,"y":0.223,"e":0.04},{"x":1.965,"y":0.147,"e":0.04},{"x":1.965,"y":0.063,"e":0.04},{"x":1.965,"y":-0.013,"e":0.04},{"x":1.965,"y":-0.097,"e":0.04},{"x":1.965,"y":-0.173,"e":0.04},
{"x":1.991,"y":0.302,"e":0.04},{"x":1.991,"y":0.227,"e":0.04},{"x":1.991,"y":0.143,"e":0.04},{"x":1.991,"y":0.067,"e":0.04},{"x":1.991,"y":-0.017,"e":0.04},{"x":1.991,"y":-0.093,"e":0.04},{"x":1.991,"y":-0.177,"e":0.04},
{"x":2.017,"y":0.306,"e":0.04},{"x":2.017,"y":0.223,"e":0.04},{"x":2.017,"y":0.147,"e":0.04},{"x":2.017,"y":0.063,"e":0.04},{"x":2.017,"y":-0.013,"e":0.04},{"x":2.017,"y":-0.097,"e":0.04},{"x":2.017,"y":-0.173,"e":0.04},
{"x":2.043,"y":0.302,"e":0.04},{"x":2.043,"y":0.227,"e":0.04},{"x":2.043,"y":0.143,"e":0.04},{"x":2.043,"y":0.067,"e":0.04},{"x":2.043,"y":-0.017,"e":0.04},{"x":2.043,"y":-0.093,"e":0.04},{"x":2.043,"y":-0.177,"e":0.04},
{"x":2.069,"y":0.306,"e":0.04},{"x":2.069,"y":0.223,"e":0.04},{"x":2.069,"y":0.147,"e":0.04},{"x":2.069,"y":0.063,"e":0.04},{"x":2.069,"y":-0.013,"e":0.04},{"x":2.069,"y":-0.097,"e":0.04},{"x":2.069,"y":-0.173,"e":0.04},
{"x":2.095,"y":0.302,"e":0.04},{"x":2.095,"y":0.227,"e":0.04},{"x":2.095,"y":0.143,"e":0.04},{"x":2.095,"y":0.067,"e":0.04},{"x":2.095,"y":-0.017,"e":0.04},{"x":2.095,"y":-0.093,"e":0.04},{"x":2.095,"y":-0.177,"e":0.04},
{"x":2.121,"y":0.306,"e":0.04},{"x":2.121,"y":0.223,"e":0.04},{"x":2.121,"y":0.147,"e":0.04},{"x":2.121,"y":0.063,"e":0.04},{"x":2.121,"y":-0.013,"e":0.04},{"x":2.121,"y":-0.097,"e":0.04},{"x":2.121,"y":-0.173,"e":0.04},
{"x":2.147,"y":0.302,"e":0.04},{"x":2.147,"y":0.227,"e":0.04},{"x":2.147,"y":0.143,"e":0.04},{"x":2.147,"y":0.067,"e":0.04},{"x":2.147,"y":-0.017,"e":0.04},{"x":2.147,"y":-0.093,"e":0.04},{"x":2.147,"y":-0.177,"e":0.04},
{"x":2.173,"y":0.306,"e":0.04},{"x":2.173,"y":0.223,"e":0.04},{"x":2.173,"y":0.147,"e":0.04},{"x":2.173,"y":0.063,"e":0.04},{"x":2.173,"y":-0.013,"e":0.04},{"x":2.173,"y":-0.097,"e":0.04},{"x":2.173,"y":-0.173,"e":0.04},
{"x":2.199,"y":0.302,"e":0.04},{"x":2.199,"y":0.227,"e":0.04},{"x":2.199,"y":0.143,"e":0.04},{"x":2.199,"y":0.067,"e":0.04},{"x":2.199,"y":-0.017,"e":0.04},{"x":2.199,"y":-0.093,"e":0.04},{"x":2.199,"y":-0.177,"e":0.04},
{"x":2.225,"y":0.306,"e":0.04},{"x":2.225,"y":0.223,"e":0.04},{"x":2.225,"y":0.147,"e":0.04},{"x":2.225,"y":0.063,"e":0.04},{"x":2.225,"y":-0.013,"e":0.04},{"x":2.225,"y":-0.097,"e":0.04},{"x":2.225,"y":-0.173,"e":0.04},{"x":2.225,"y":-0.256,"e":0.04},
{"x":2.251,"y":0.302,"e":0.04},{"x":2.251,"y":0.227,"e":0.04},{"x":2.251,"y":0.143,"e":0.04},{"x":2.251,"y":0.067,"e":0.04},{"x":2.251,"y":-0.017,"e":0.04},{"x":2.251,"y":-0.093,"e":0.04},{"x":2.251,"y":-0.177,"e":0.04},{"x":2.251,"y":-0.252,"e":0.04},
{"x":2.277,"y":0.306,"e":0.04},{"x":2.277,"y":0.223,"e":0.04},{"x":2.277,"y":0.147,"e":0.04},{"x":2.277,"y":0.063,"e":0.04},{"x":2.277,"y":-0.013,"e":0.04},{"x":2.277,"y":-0.097,"e":0.04},{"x":2.277,"y":-0.173,"e":0.04},{"x":2.277,"y":-0.256,"e":0.04},
{"x":2.303,"y":0.302,"e":0.04},{"x":2.303,"y":0.227,"e":0.04},{"x":2.303,"y":0.143,"e":0.04},{"x":2.303,"y":0.067,"e":0.04},{"x":2.303,"y":-0.017,"e":0.04},{"x":2.303,"y":-0.093,"e":0.04},{"x":2.303,"y":-0.177,"e":0.04},{"x":2.303,"y":-0.252,"e":0.04},
{"x":2.329,"y":0.306,"e":0.04},{"x":2.329,"y":0.223,"e":0.04},{"x":2.329,"y":0.147,"e":0.04},{"x":2.329,"y":0.063,"e":0.04},{"x":2.329,"y":-0.013,"e":0.04},{"x":2.329,"y":-0.097,"e":0.04},{"x":2.329,"y":-0.173,"e":0.04},{"x":2.329,"y":-0.256,"e":0.04},
{"x":2.355,"y":0.302,"e":0.04},{"x":2.355,"y":0.227,"e":0.04},{"x":2.355,"y":0.143,"e":0.04},{"x":2.355,"y":0.067,"e":0.04},{"x":2.355,"y":-0.017,"e":0.04},{"x":2.355,"y":-0.093,"e":0.04},{"x":2.355,"y":-0.177,"e":0.04},{"x":2.355,"y":-0.252,"e":0.04},
{"x":2.381,"y":0.306,"e":0.04},{"x":2.381,"y":0.223,"e":0.04},{"x":2.381,"y":0.147,"e":0.04},{"x":2.381,"y":0.063,"e":0.04},{"x":2.381,"y":-0.013,"e":0.04},{"x":2.381,"y":-0.097,"e":0.04},{"x":2.381,"y":-0.173,"e":0.04},{"x":2.381,"y":-0.256,"e":0.04},
{"x":2.407,"y":0.302,"e":0.04},{"x":2.407,"y":0.227,"e":0.04},{"x":2.407,"y":0.143,"e":0.04},{"x":2.407,"y":0.067,"e":0.04},{"x":2.407,"y":-0.017,"e":0.04},{"x":2.407,"y":-0.093,"e":0.04},{"x":2.407,"y":-0.177,"e":0.04},{"x":2.407,"y":-0.252,"e":0.04},
{"x":2.433,"y":0.306,"e":0.04},{"x":2.433,"y":0.223,"e":0.04},{"x":2.433,"y":0.147,"e":0.04},{"x":2.433,"y":0.063,"e":0.04},{"x":2.433,"y":-0.013,"e":0.04},{"x":2.433,"y":-0.097,"e":0.04},{"x":2.433,"y":-0.173,"e":0.04},{"x":2.433,"y":-0.256,"e":0.04},
{"x":2.459,"y":0.302,"e":0.04},{"x":2.459,"y":0.227,"e":0.04},{"x":2.459,"y":0.143,"e":0.04},{"x":2.459,"y":0.067,"e":0.04},{"x":2.459,"y":-0.017,"e":0.04},{"x":2.459,"y":-0.093,"e":0.04},{"x":2.459,"y":-0.177,"e":0.04},{"x":2.459,"y":-0.252,"e":0.04},
{"x":2.485,"y":0.306,"e":0.04},{"x":2.485,"y":0.223,"e":0.04},{"x":2.485,"y":0.147,"e":0.04},{"x":2.485,"y":0.063,"e":0.04},{"x":2.485,"y":-0.013,"e":0.04},{"x":2.485,"y":-0.097,"e":0.04},{"x":2.485,"y":-0.173,"e":0.04},{"x":2.485,"y":-0.256,"e":0.04}
]
},
"vconcat": [
{
  "width": 568, "height": 171,
  "data": {"name": "rects"},
  "mark": {"type": "rect", "filled": false, "strokeWidth": 1.6, "strokeOpacity": 0.9},
  "encoding": {
    "x": {"field": "x1", "type": "quantitative", "scale": {"domain": [1.7777, 2.5586], "nice": false, "zero": false}, "axis": {"title": null, "values": [1.8,1.9,2.0,2.1,2.2,2.3,2.4,2.5], "format": ".1f"}},
    "x2": {"field": "x2"},
    "y": {"field": "y1", "type": "quantitative", "scale": {"domain": [-0.062, 0.3266], "nice": false, "zero": false}, "axis": {"title": "[Fe/H]", "values": [0, 0.1, 0.2, 0.3], "format": ".1f", "titlePadding": 5}},
    "y2": {"field": "y2"},
    "color": {"field": "r", "type": "nominal",
      "scale": {"domain": ["R/Rₑ=0.05","R/Rₑ=0.25","R/Rₑ=0.45","R/Rₑ=0.65","R/Rₑ=0.15","R/Rₑ=0.35","R/Rₑ=0.55"], "range": ["#1f77b4","#2ca02c","#9467bd","#e377c2","#ff7f0e","#d62728","#8c564b"]},
      "legend": {"orient": "none", "legendX": 34, "legendY": -54, "columns": 4, "direction": "horizontal", "title": null, "symbolType": "M-1.55,0L1.55,0", "symbolSize": 400, "symbolOffset": 5.5, "symbolStrokeWidth": 1.6, "labelFontSize": 15, "labelOffset": 12, "columnPadding": 0, "rowPadding": 3, "padding": 6, "fillColor": "white", "strokeColor": "#d0d0d0", "cornerRadius": 3, "labelLimit": 200}}
  }
},
{
  "width": 568, "height": 172,
  "layer": [
    {"data": {"name": "pts"},
     "mark": {"type": "errorbar", "ticks": {"size": 8}, "color": "#1f77b4", "thickness": 2.4},
     "encoding": {
       "x": {"field": "x", "type": "quantitative", "scale": {"domain": [1.292, 2.728], "nice": false, "zero": false}, "axis": {"title": "log σ (kms⁻¹)", "titleFontSize": 18.5, "values": [1.4,1.6,1.8,2.0,2.2,2.4,2.6], "format": ".1f"}},
       "y": {"field": "y", "type": "quantitative", "scale": {"domain": [-0.697, 0.558], "nice": false, "zero": false}, "axis": {"title": "[Fe/H]", "values": [-0.5, 0, 0.5], "format": ".1f"}},
       "yError": {"field": "e"}
     }},
    {"data": {"name": "pts"},
     "mark": {"type": "point", "shape": "M0,-1L0.2245,-0.309L0.951,-0.309L0.3633,0.118L0.5878,0.809L0,0.382L-0.5878,0.809L-0.3633,0.118L-0.951,-0.309L-0.2245,-0.309Z", "filled": true, "size": 150, "color": "#1f77b4", "opacity": 1, "strokeWidth": 0},
     "encoding": {
       "x": {"field": "x", "type": "quantitative"},
       "y": {"field": "y", "type": "quantitative"}
     }},
    {"data": {"name": "fit"},
     "mark": {"type": "line", "strokeWidth": 1.5},
     "encoding": {
       "x": {"field": "x", "type": "quantitative"},
       "y": {"field": "y", "type": "quantitative"},
       "color": {"field": "lab", "type": "nominal", "scale": {"domain": ["y = (-0.06±0.11)x +(0.25±0.25)"], "range": ["red"]},
         "legend": {"orient": "none", "legendX": 244, "legendY": 135, "title": null, "symbolType": "M-1.65,0L1.65,0", "symbolSize": 400, "symbolOffset": 6.5, "symbolStrokeWidth": 1.5, "labelFontSize": 16, "labelOffset": 14, "padding": 4, "fillColor": "rgba(255,255,255,0.8)", "strokeColor": "#cccccc", "cornerRadius": 4, "labelLimit": 400}}
     }}
  ]
}
],
"resolve": {"scale": {"color": "independent"}, "legend": {"color": "independent"}}
}
